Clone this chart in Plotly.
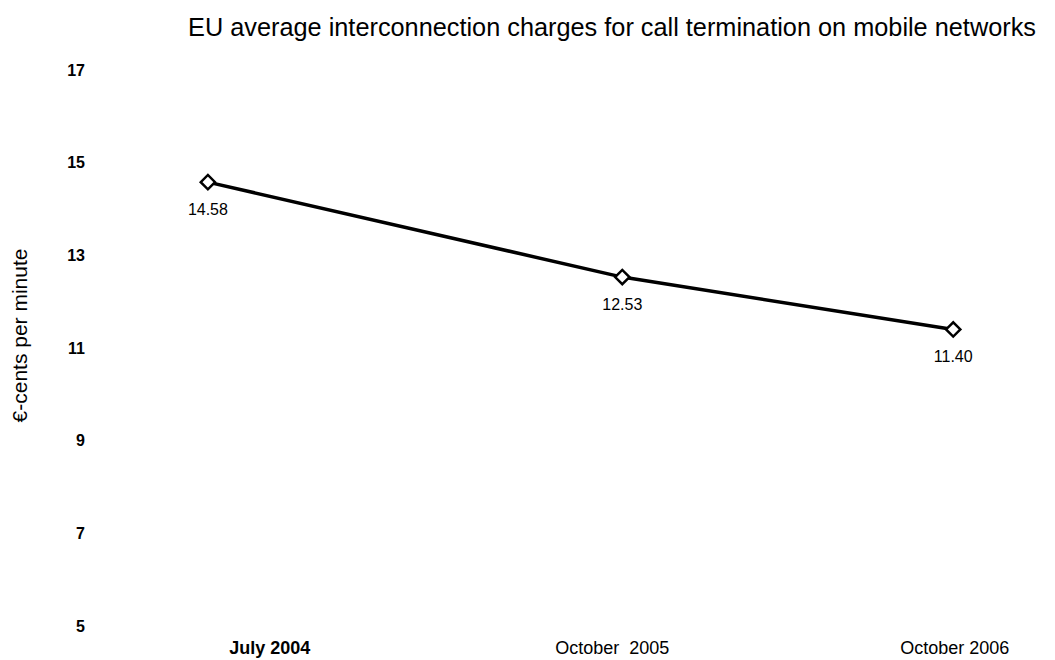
import plotly.graph_objects as go

dates = ["2004-07-01", "2005-10-01", "2006-10-01"]
tick_labels = ["<b>July 2004</b>", "October  2005", "October 2006"]
values = [14.58, 12.53, 11.40]
value_labels = ["14.58", "12.53", "11.40"]
y_ticks = [5, 7, 9, 11, 13, 15, 17]

fig = go.Figure()
fig.add_trace(go.Scatter(
    x=dates, y=values,
    mode="lines+markers",
    line=dict(color="black", width=3.5),
    marker=dict(symbol="diamond", size=11, color="white",
                line=dict(color="black", width=2.5)),
    cliponaxis=False,
    showlegend=False,
    hoverinfo="skip",
))
# value labels, offset below the points
fig.add_trace(go.Scatter(
    x=dates, y=values,
    mode="markers+text",
    marker=dict(size=32, opacity=0),
    text=value_labels,
    textposition="bottom center",
    textfont=dict(family="Arial, Liberation Sans", size=16, color="black"),
    cliponaxis=False,
    showlegend=False,
    hoverinfo="skip",
))
# invisible carrier for the category label axis (labels in the source are evenly spaced)
fig.add_trace(go.Scatter(
    x=tick_labels, y=values, xaxis="x2",
    mode="lines", line=dict(width=0), opacity=0,
    showlegend=False, hoverinfo="skip",
))

fig.update_layout(
    width=1045, height=650,
    paper_bgcolor="white", plot_bgcolor="white",
    margin=dict(l=92, r=10, t=35, b=30, autoexpand=False),
    title=dict(text="EU average interconnection charges for call termination on mobile networks",
               x=0.578, xanchor="center", y=0.971, yanchor="middle",
               font=dict(family="Arial, Liberation Sans", size=25.3, color="black")),
    xaxis=dict(type="date", range=["2004-03-04", "2007-01-08"],
               showticklabels=False,
               showgrid=False, zeroline=False, showline=False, ticks=""),
    xaxis2=dict(type="category", overlaying="x", anchor="y", side="bottom",
                range=[-0.4958, 2.2575],
                showgrid=False, zeroline=False, showline=False, ticks="",
                ticklabelstandoff=7,
                tickfont=dict(family="Arial, Liberation Sans", size=18, color="black")),
    yaxis=dict(range=[4.956, 17.583], tickvals=y_ticks,
               ticktext=[f"<b>{v}</b>" for v in y_ticks],
               showgrid=False, zeroline=False, showline=False, ticks="",
               ticklabelstandoff=14,
               tickfont=dict(family="Arial, Liberation Sans", size=16, color="black")),
    yaxis_title=dict(text="€-cents per minute", standoff=38,
                     font=dict(family="Arial, Liberation Sans", size=21, color="black")),
)

fig.write_html("out.html")
